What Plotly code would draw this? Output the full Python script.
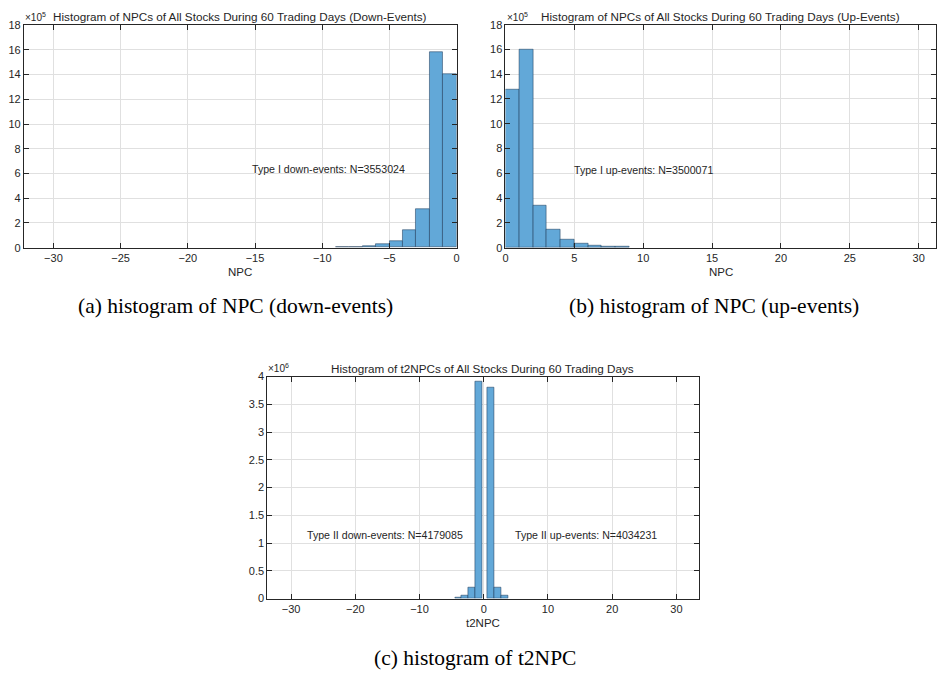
import plotly.graph_objects as go

W, H = 948, 678

# ---------------- data (counts in the units shown on each y axis) ----------------
# (a) NPC down-events: bin left edges (width 1), counts x1e5
a_left = [-9, -8, -7, -6, -5, -4, -3, -2, -1]
a_counts = [0.05, 0.08, 0.16, 0.29, 0.56, 1.43, 3.10, 15.85, 14.0]
a_label = "Type I down-events: N=3553024"

# (b) NPC up-events: bin left edges (width 1), counts x1e5
b_left = [0, 1, 2, 3, 4, 5, 6, 7, 8]
b_counts = [12.75, 16.0, 3.35, 1.47, 0.62, 0.31, 0.16, 0.08, 0.05]
b_label = "Type I up-events: N=3500071"

# (c) t2NPC: bin left/right edges, counts x1e6
c_left = [-4.5, -3.5, -2.4, -1.3, 0.6, 1.7, 2.8]
c_right = [-3.5, -2.4, -1.3, -0.25, 1.7, 2.8, 3.9]
c_counts = [0.01, 0.05, 0.20, 3.91, 3.80, 0.19, 0.05]
c_down_label = "Type II down-events: N=4179085"
c_up_label = "Type II up-events: N=4034231"

titles = [
    "Histogram of NPCs of All Stocks During 60 Trading Days (Down-Events)",
    "Histogram of NPCs of All Stocks During 60 Trading Days (Up-Events)",
    "Histogram of t2NPCs of All Stocks During 60 Trading Days",
]
captions = [
    "(a) histogram of NPC (down-events)",
    "(b) histogram of NPC (up-events)",
    "(c) histogram of t2NPC",
]
xlabels = ["NPC", "NPC", "t2NPC"]
exponents = ["5", "5", "6"]

# ---------------- layout geometry (pixels) ----------------
boxes = {  # left, right, top, bottom
    "a": (21, 456.5, 19.5, 246),
    "b": (505.7, 939, 19, 246),
    "c": (266, 700, 377.3, 603.3),
}

def xd(l, r):
    return [l / W, r / W]

def yd(t, b):
    return [1 - b / H, 1 - t / H]

FILL = "#62a8d8"
EDGE = "rgba(25,55,85,0.65)"
AXC = "#262626"
GRID = "#e0e0e0"
SANS = "Liberation Sans, Arial, sans-serif"
SERIF = "Liberation Serif, Times New Roman, serif"

fig = go.Figure()

def add_hist(left, right, counts, xa, ya):
    centers = [(l + r) / 2 for l, r in zip(left, right)]
    widths = [r - l for l, r in zip(left, right)]
    fig.add_trace(go.Bar(
        x=centers, y=counts, width=widths, xaxis=xa, yaxis=ya,
        marker=dict(color=FILL, line=dict(color=EDGE, width=0.8)),
        showlegend=False, hoverinfo="skip",
    ))

add_hist(a_left, [v + 1 for v in a_left], a_counts, "x", "y")
add_hist(b_left, [v + 1 for v in b_left], b_counts, "x2", "y2")
add_hist(c_left, c_right, c_counts, "x3", "y3")

common = dict(
    showline=True, linecolor=AXC, linewidth=1, mirror="ticks",
    ticks="inside", ticklen=5, tickcolor=AXC, tickwidth=1,
    showgrid=True, gridcolor=GRID, gridwidth=1, zeroline=False,
    tickfont=dict(family=SANS, size=11, color=AXC), fixedrange=True,
)

la, ra, ta, ba = boxes["a"]
lb, rb, tb, bb = boxes["b"]
lc, rc, tc, bc = boxes["c"]

fig.update_layout(
    width=W, height=H, margin=dict(l=0, r=0, t=0, b=0),
    paper_bgcolor="white", plot_bgcolor="white", bargap=0,
    xaxis=dict(domain=xd(la, ra), range=[-32.2, 0], tickvals=list(range(-30, 1, 5)), anchor="y", **common),
    yaxis=dict(domain=yd(ta, ba), range=[0, 18], tickvals=list(range(0, 19, 2)), anchor="x", **common),
    xaxis2=dict(domain=xd(lb, rb), range=[0, 31.26], tickvals=list(range(0, 31, 5)), anchor="y2", **common),
    yaxis2=dict(domain=yd(tb, bb), range=[0, 18], tickvals=list(range(0, 19, 2)), anchor="x2", **common),
    xaxis3=dict(domain=xd(lc, rc), range=[-33.7, 33.45], tickvals=list(range(-30, 31, 10)), anchor="y3", **common),
    yaxis3=dict(domain=yd(tc, bc), range=[0, 4], tickvals=[i * 0.5 for i in range(9)], anchor="x3", **common),
)

ann = []
def pa(px, py, text, size=11, family=SANS, xanchor="center", yanchor="middle", color=AXC):
    ann.append(dict(x=px / W, y=1 - py / H, xref="paper", yref="paper", text=text,
                    showarrow=False, xanchor=xanchor, yanchor=yanchor,
                    font=dict(family=family, size=size, color=color)))

# titles
pa((la + ra) / 2, 10.5, titles[0], size=11.7)
pa((lb + rb) / 2, 10.5, titles[1], size=11.7)
pa((lc + rc) / 2, 369, titles[2], size=11.7)
# exponent labels
pa(la - 1, 11, "×10<sup>%s</sup>" % exponents[0], size=10, xanchor="left")
pa(lb - 1, 11, "×10<sup>%s</sup>" % exponents[1], size=10, xanchor="left")
pa(lc - 1, 369, "×10<sup>%s</sup>" % exponents[2], size=10, xanchor="left")
# x axis labels
pa((la + ra) / 2, 271, xlabels[0], size=11.5)
pa((lb + rb) / 2, 271, xlabels[1], size=11.5)
pa((lc + rc) / 2, 628, xlabels[2], size=11.5)
# captions
pa(233.5, 305, captions[0], size=21.5, family=SERIF, color="black")
pa(716, 305, captions[1], size=21.5, family=SERIF, color="black")
pa(475, 664, captions[2], size=21.5, family=SERIF, color="black")

fig.update_layout(annotations=ann)

# in-plot texts (data coordinates)
def da(x, y, text, xa, ya):
    fig.add_annotation(x=x, y=y, xref=xa, yref=ya, text=text, showarrow=False,
                       xanchor="left", yanchor="middle",
                       font=dict(family=SANS, size=10.6, color=AXC))

da(-15.35, 6.35, a_label, "x", "y")
da(4.8, 6.28, b_label, "x2", "y2")
da(-27.9, 1.14, c_down_label, "x3", "y3")
da(4.6, 1.14, c_up_label, "x3", "y3")

fig.write_html("out.html")
